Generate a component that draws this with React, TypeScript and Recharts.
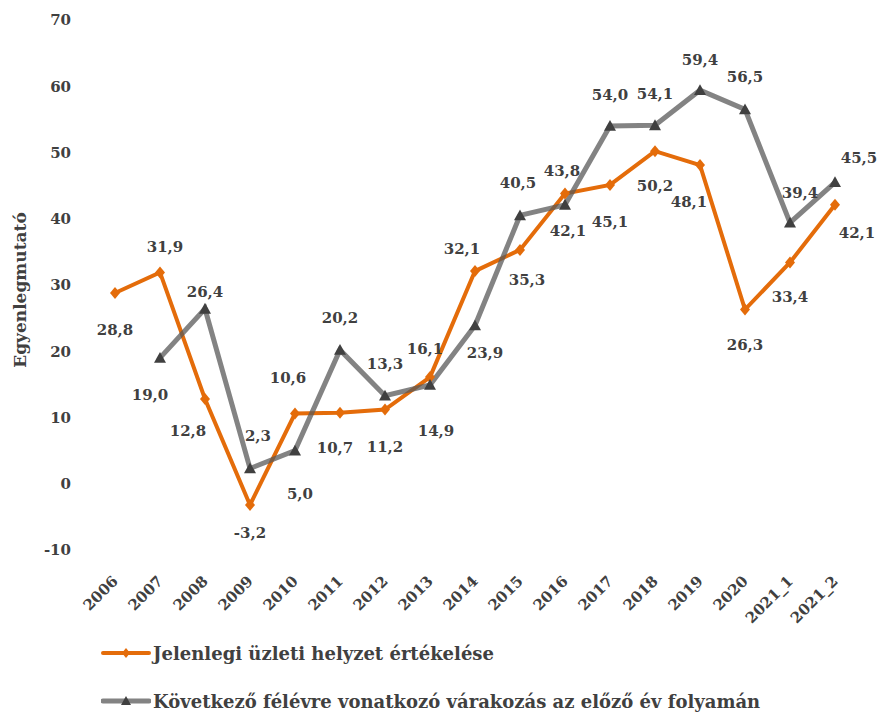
import React from "react";
import { LineChart, Line, XAxis, YAxis, Label } from "recharts";

const categories = [
  "2006", "2007", "2008", "2009", "2010", "2011", "2012", "2013", "2014",
  "2015", "2016", "2017", "2018", "2019", "2020", "2021_1", "2021_2",
];

const currentValues = [
  28.8, 31.9, 12.8, -3.2, 10.6, 10.7, 11.2, 16.1, 32.1, 35.3, 43.8, 45.1, 50.2,
  48.1, 26.3, 33.4, 42.1,
];

const expectedValues = [
  null, 19.0, 26.4, 2.3, 5.0, 20.2, 13.3, 14.9, 23.9, 40.5, 42.1, 54.0, 54.1,
  59.4, 56.5, 39.4, 45.5,
];

const yTicks = [-10, 0, 10, 20, 30, 40, 50, 60, 70];

const currentName = "Jelenlegi üzleti helyzet értékelése";
const expectedName = "Következő félévre vonatkozó várakozás az előző év folyamán";

// where each data label sits relative to its point (dx, dy of the text centre)
const currentLabelShift = [
  [0, 37], [5, -25], [-17, 32], [0, 28], [-7, -36], [-5, 35], [0, 37],
  [-5, -28], [-13, -22], [7, 30], [-3, -23], [0, 37], [0, 35], [-11, 37],
  [0, 35], [0, 35], [22, 28],
];
const expectedLabelShift = [
  [0, 0], [-10, 37], [0, -17], [8, -33], [5, 43], [0, -32], [0, -32],
  [6, 46], [10, 28], [-2, -32], [3, 26], [0, -31], [0, -31], [0, -30],
  [0, -32], [10, -30], [24, -24],
];

const ORANGE = "#E46C0A";
const GRAY = "#595959";
const MARKER = "#404040";
const TEXT = "#404040";
const FONT = "'DejaVu Serif', serif";

const data = categories.map((year, i) => ({
  year,
  current: currentValues[i],
  expected: expectedValues[i],
}));

const fmt = (v: number) => v.toFixed(1).replace(".", ",");

const Diamond = ({ cx, cy, size = 5 }: any) => (
  <path
    d={`M${cx},${cy - size - 1} L${cx + size},${cy} L${cx},${cy + size + 1} L${cx - size},${cy} Z`}
    fill={ORANGE}
  />
);

const Triangle = ({ cx, cy, size = 6 }: any) => (
  <path
    d={`M${cx},${cy - size} L${cx + size},${cy + size * 0.8} L${cx - size},${cy + size * 0.8} Z`}
    fill={MARKER}
  />
);

const makeLabel = (shift: number[][]) => (props: any) => {
  const { x, y, value, index } = props;
  if (value == null || x == null || y == null) return <g />;
  const [dx, dy] = shift[index];
  return (
    <text
      x={x + dx}
      y={y + dy}
      textAnchor="middle"
      dominantBaseline="central"
      fill={TEXT}
      fontFamily={FONT}
      fontWeight="bold"
      fontSize={15}
    >
      {fmt(value)}
    </text>
  );
};

const YearTick = ({ x, y, payload }: any) => {
  const tx = x + 4;
  const ty = y + 24;
  return (
    <text
      x={tx}
      y={ty}
      transform={`rotate(-45 ${tx} ${ty})`}
      textAnchor="end"
      fill={TEXT}
      fontFamily={FONT}
      fontWeight="bold"
      fontSize={15}
    >
      {payload.value}
    </text>
  );
};

const App = () => {
  return (
    <div style={{ position: "absolute", left: 0, top: 0, width: 878, height: 713, background: "#fff" }}>
      <LineChart
        width={878}
        height={713}
        data={data}
        margin={{ top: 20, right: 21, bottom: 93, left: 0 }}
      >
        <XAxis
          dataKey="year"
          axisLine={false}
          tickLine={false}
          interval={0}
          padding={{ left: 22, right: 22 }}
          height={70}
          tick={<YearTick />}
        />
        <YAxis
          domain={[-10, 70]}
          ticks={yTicks}
          width={93}
          axisLine={false}
          tickLine={false}
          tickMargin={16}
          tick={{ fill: TEXT, fontSize: 15, fontWeight: "bold", fontFamily: FONT }}
        >
          <Label
            content={() => (
              <text
                x={20}
                y={290}
                transform="rotate(-90 20 290)"
                textAnchor="middle"
                dominantBaseline="central"
                fill={TEXT}
                fontFamily={FONT}
                fontWeight="bold"
                fontSize={17}
              >
                Egyenlegmutató
              </text>
            )}
          />
        </YAxis>
        <Line
          dataKey="current"
          name={currentName}
          stroke={ORANGE}
          strokeWidth={4}
          isAnimationActive={false}
          dot={(p: any) => <Diamond key={`d${p.index}`} cx={p.cx} cy={p.cy} />}
          label={makeLabel(currentLabelShift)}
        />
        <Line
          dataKey="expected"
          name={expectedName}
          stroke={GRAY}
          strokeOpacity={0.75}
          strokeWidth={5}
          isAnimationActive={false}
          dot={(p: any) =>
            p.value == null || p.cy == null ? (
              <g key={`t${p.index}`} />
            ) : (
              <Triangle key={`t${p.index}`} cx={p.cx} cy={p.cy} />
            )
          }
          label={makeLabel(expectedLabelShift)}
        />
      </LineChart>

      {/* Legend */}
      {[
        { name: currentName, color: ORANGE, width: 4, marker: "diamond", top: 653 },
        { name: expectedName, color: GRAY, width: 5, marker: "triangle", top: 701 },
      ].map((item) => (
        <div
          key={item.name}
          style={{
            position: "absolute",
            left: 101,
            top: item.top - 12,
            height: 24,
            display: "flex",
            alignItems: "center",
            fontFamily: FONT,
            fontWeight: "bold",
            fontSize: 18,
            color: TEXT,
            whiteSpace: "nowrap",
          }}
        >
          <svg width={50} height={24} style={{ marginRight: 2 }}>
            <line
              x1={2}
              y1={12}
              x2={48}
              y2={12}
              stroke={item.color}
              strokeOpacity={item.marker === "triangle" ? 0.75 : 1}
              strokeWidth={item.width}
              strokeLinecap="round"
            />
            {item.marker === "diamond" ? (
              <Diamond cx={25} cy={12} size={4} />
            ) : (
              <Triangle cx={25} cy={12} size={5} />
            )}
          </svg>
          <span>{item.name}</span>
        </div>
      ))}
    </div>
  );
};

export default App;
